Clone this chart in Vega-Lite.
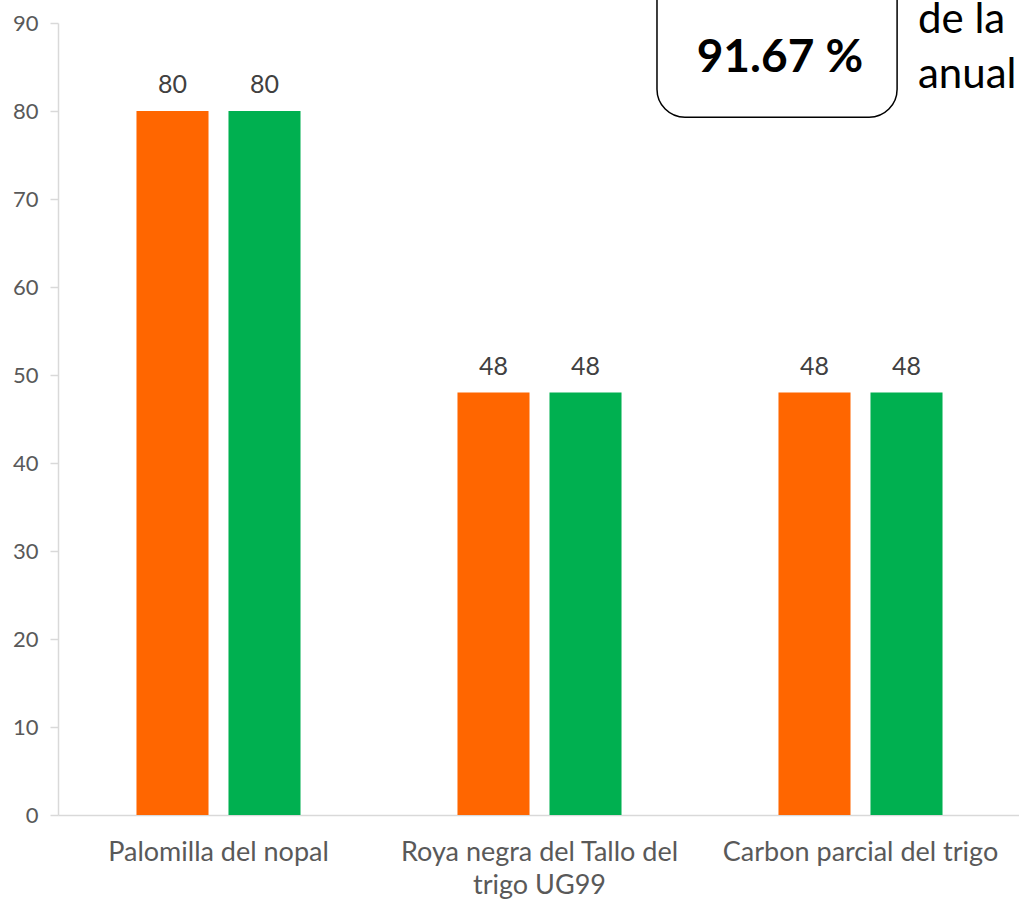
{
  "$schema": "https://vega.github.io/schema/vega-lite/v6.json",
  "autosize": {"type": "none"},
  "padding": {"left": 58, "top": 23, "right": 0, "bottom": 87},
  "width": 963,
  "height": 792,
  "background": "white",
  "config": {
    "view": {"stroke": null},
    "font": "Lato",
    "axisY": {
      "grid": false, "domainColor": "#D9D9D9", "domainWidth": 1.5,
      "tickColor": "#D9D9D9", "tickSize": 8, "tickWidth": 1.5,
      "labelColor": "#595959", "labelFontSize": 22, "labelPadding": 12, "labelOverlap": false
    },
    "axisX": {
      "ticks": false, "domainColor": "#D9D9D9", "domainWidth": 1.5,
      "labelColor": "#595959", "labelFontSize": 27, "labelPadding": 24,
      "labelLimit": 400, "labelLineHeight": 33, "labelAngle": 0
    }
  },
  "datasets": {
    "bars": [
      {"categoria": "Palomilla del nopal", "serie": "Programado", "valor": 80},
      {"categoria": "Palomilla del nopal", "serie": "Realizado", "valor": 80},
      {"categoria": "Roya negra del Tallo del trigo UG99", "serie": "Programado", "valor": 48},
      {"categoria": "Roya negra del Tallo del trigo UG99", "serie": "Realizado", "valor": 48},
      {"categoria": "Carbon parcial del trigo", "serie": "Programado", "valor": 48},
      {"categoria": "Carbon parcial del trigo", "serie": "Realizado", "valor": 48}
    ],
    "caja": [
      {"x1": 1.866, "x2": 2.614, "y1": 79.3, "y2": 96}
    ],
    "notas": [
      {"x": 2.249, "y": 86.0, "texto": "91.67 %", "tipo": "bold"},
      {"x": 2.679, "y": 90.3, "texto": "de la", "tipo": "normal"},
      {"x": 2.679, "y": 84.1, "texto": "anual", "tipo": "normal"}
    ]
  },
  "layer": [
    {
      "data": {"name": "bars"},
      "encoding": {
        "x": {
          "field": "categoria", "type": "nominal", "sort": null,
          "scale": {"paddingInner": 0, "paddingOuter": 0},
          "axis": {
            "title": null,
            "labelExpr": "datum.value == 'Roya negra del Tallo del trigo UG99' ? ['Roya negra del Tallo del', 'trigo UG99'] : datum.value"
          }
        },
        "xOffset": {
          "field": "serie", "type": "nominal",
          "scale": {"paddingInner": 0.217, "paddingOuter": 0.853}
        },
        "y": {
          "field": "valor", "type": "quantitative",
          "scale": {"domain": [0, 90], "nice": false},
          "axis": {"title": null, "values": [0, 10, 20, 30, 40, 50, 60, 70, 80, 90]}
        }
      },
      "layer": [
        {
          "mark": {"type": "bar"},
          "encoding": {
            "color": {
              "field": "serie", "type": "nominal",
              "scale": {"domain": ["Programado", "Realizado"], "range": ["#FF6600", "#00B050"]},
              "legend": null
            }
          }
        },
        {
          "mark": {"type": "text", "baseline": "bottom", "dy": -13, "fontSize": 25, "color": "#404040"},
          "encoding": {"text": {"field": "valor", "type": "quantitative"}}
        }
      ]
    },
    {
      "layer": [
        {
          "data": {"name": "caja"},
          "mark": {"type": "rect", "fill": "white", "stroke": "black", "strokeWidth": 1.5, "cornerRadius": 28},
          "encoding": {
            "x": {"field": "x1", "type": "quantitative", "scale": {"domain": [0, 3], "nice": false, "zero": false}, "axis": null},
            "x2": {"field": "x2"},
            "y": {"field": "y1", "type": "quantitative", "axis": {"title": null, "values": [0, 10, 20, 30, 40, 50, 60, 70, 80, 90]}},
            "y2": {"field": "y2"}
          }
        },
        {
          "data": {"name": "notas"},
          "transform": [{"filter": "datum.tipo == 'bold'"}],
          "mark": {"type": "text", "fontSize": 46, "fontWeight": "bold", "color": "black", "align": "center", "baseline": "middle"},
          "encoding": {
            "x": {"field": "x", "type": "quantitative", "scale": {"domain": [0, 3], "nice": false, "zero": false}, "axis": null},
            "y": {"field": "y", "type": "quantitative", "axis": {"title": null, "values": [0, 10, 20, 30, 40, 50, 60, 70, 80, 90]}},
            "text": {"field": "texto"}
          }
        },
        {
          "data": {"name": "notas"},
          "transform": [{"filter": "datum.tipo == 'normal'"}],
          "mark": {"type": "text", "fontSize": 42, "color": "black", "align": "left", "baseline": "middle"},
          "encoding": {
            "x": {"field": "x", "type": "quantitative", "scale": {"domain": [0, 3], "nice": false, "zero": false}, "axis": null},
            "y": {"field": "y", "type": "quantitative", "axis": {"title": null, "values": [0, 10, 20, 30, 40, 50, 60, 70, 80, 90]}},
            "text": {"field": "texto"}
          }
        }
      ]
    }
  ],
  "resolve": {"scale": {"x": "independent"}}
}
